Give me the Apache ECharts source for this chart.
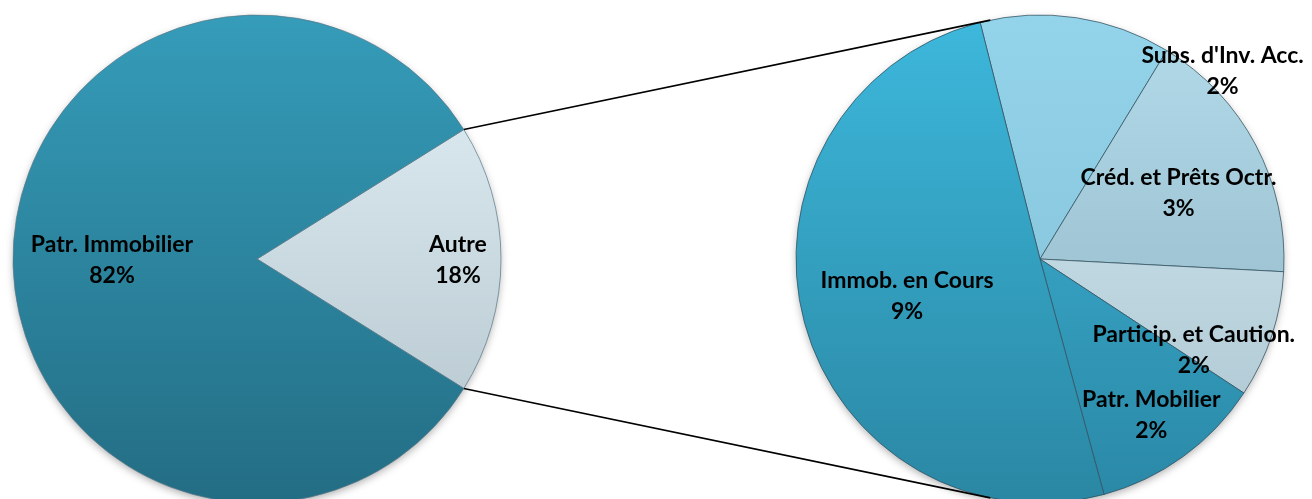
<!DOCTYPE html>
<html><head><meta charset="utf-8">
<script src="https://cdn.jsdelivr.net/npm/echarts@6/dist/echarts.min.js"></script>
<style>html,body{margin:0;padding:0;background:#fff}#c{width:1312px;height:499px}</style>
</head><body><div id="c"></div>
<script>
// ---- data ----
const mainCategories = ['Autre', 'Patr. Immobilier'];
const mainValues = [17.8, 82.2];
const detailCategories = ["Subs. d'Inv. Acc.", 'Créd. et Prêts Octr.', 'Particip. et Caution.', 'Patr. Mobilier', 'Immob. en Cours'];
const detailValues = [2.25, 3.05, 1.5, 2.05, 8.95];

// ---- style ----
const R = 244, CY = 259, CXL = 257, CXR = 1040;
const FONT = 'Lato';
const mainColors = [['#e3f2f8', '#b2c2ca'], ['#359cb9', '#236d84']];
const detailColors = [['#94d4ea', '#7fbdd3'], ['#b2dbea', '#8fb1c1'], ['#d6ecf4', '#a9c3ce'], ['#40b6da', '#2a88a6'], ['#3db8dc', '#2a87a3']];
// label offsets relative to the default "inside" position
const mainLabelShift = [[76, 1], [-20, 1]];
const detailLabelShift = [[164, -64], [28, -8], [35, 52], [38, 55], [-12, 5]];

function grad(c, cx) {
  return { type: 'linear', x: cx, y: CY - R, x2: cx, y2: CY + R, global: true,
    colorStops: [{ offset: 0, color: c[0] }, { offset: 1, color: c[1] }] };
}
const fmt = p => p.name + '\n' + Math.round(p.value) + '%';
const labelStyle = { show: true, position: 'inside', formatter: fmt, color: '#000',
  fontFamily: FONT, fontWeight: 'bold', fontSize: 23, lineHeight: 31, align: 'center' };

const mainTotal = mainValues.reduce((a, b) => a + b, 0);
const half = mainValues[0] / mainTotal * 180;

// connector lines: Autre slice corners -> tangent points of the second pie
const rad = d => d * Math.PI / 180;
function corner(sign) {
  const th = rad(90 + sign * half);
  return [CXL + R * Math.sin(th), CY - R * Math.cos(th)];
}
function tangent(P, pickTop) {
  const dx = P[0] - CXR, dy = P[1] - CY;
  const d = Math.hypot(dx, dy), phi = Math.atan2(dy, dx), a = Math.acos(R / d);
  const t1 = [CXR + R * Math.cos(phi + a), CY + R * Math.sin(phi + a)];
  const t2 = [CXR + R * Math.cos(phi - a), CY + R * Math.sin(phi - a)];
  return pickTop ? (t1[1] < t2[1] ? t1 : t2) : (t1[1] > t2[1] ? t1 : t2);
}
const pTop = corner(-1), pBot = corner(1);
const tTop = tangent(pTop, true), tBot = tangent(pBot, false);

const chart = echarts.init(document.getElementById('c'), null, { renderer: 'canvas' });
chart.setOption({
  backgroundColor: '#fff',
  animation: false,
  graphic: [
    { type: 'circle', z: -1, shape: { cx: CXL, cy: CY, r: R - 1 },
      style: { fill: '#fff', shadowBlur: 8, shadowColor: 'rgba(0,0,0,0.35)', shadowOffsetY: 3 } },
    { type: 'circle', z: -1, shape: { cx: CXR, cy: CY, r: R - 1 },
      style: { fill: '#fff', shadowBlur: 8, shadowColor: 'rgba(0,0,0,0.35)', shadowOffsetY: 3 } },
    { type: 'line', z: 10, shape: { x1: pTop[0], y1: pTop[1], x2: tTop[0], y2: tTop[1] },
      style: { stroke: '#000', lineWidth: 1.6 } },
    { type: 'line', z: 10, shape: { x1: pBot[0], y1: pBot[1], x2: tBot[0], y2: tBot[1] },
      style: { stroke: '#000', lineWidth: 1.6 } }
  ],
  series: [
    {
      type: 'pie', center: [CXL, CY], radius: [0, R], startAngle: half, clockwise: true,
      avoidLabelOverlap: false, silent: true,
      label: labelStyle, labelLine: { show: false },
      labelLayout: p => ({ dx: mainLabelShift[p.dataIndex][0], dy: mainLabelShift[p.dataIndex][1] }),
      itemStyle: { borderColor: 'rgba(90,120,135,0.7)', borderWidth: 1 },
      data: mainCategories.map((n, i) => ({ name: n, value: mainValues[i],
        itemStyle: { color: grad(mainColors[i], CXL) } }))
    },
    {
      type: 'pie', center: [CXR, CY], radius: [0, R], startAngle: 104.2, clockwise: true,
      avoidLabelOverlap: false, silent: true,
      label: labelStyle, labelLine: { show: false },
      labelLayout: p => ({ dx: detailLabelShift[p.dataIndex][0], dy: detailLabelShift[p.dataIndex][1] }),
      itemStyle: { borderColor: 'rgba(50,80,95,0.75)', borderWidth: 1 },
      data: detailCategories.map((n, i) => ({ name: n, value: detailValues[i],
        itemStyle: { color: grad(detailColors[i], CXR) } }))
    }
  ]
});
</script>
</body></html>
